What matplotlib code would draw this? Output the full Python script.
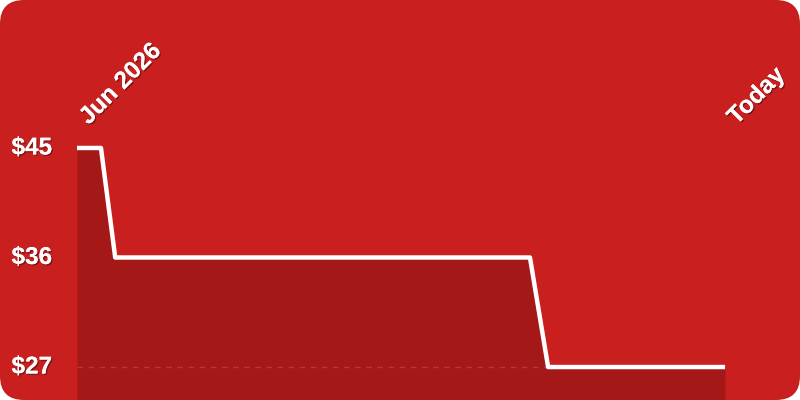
import matplotlib
matplotlib.use('Agg')
import matplotlib.pyplot as plt
import matplotlib.patheffects as pe
from matplotlib.patches import FancyBboxPatch
from matplotlib.transforms import offset_copy

# price history (time in % of the span from Jun 2026 to today)
t = [0, 3.7, 5.9, 69.9, 72.7, 100]
price = [45, 45, 36, 36, 27, 27]
tick_prices = [45, 36, 27]
tick_labels = ['$45', '$36', '$27']
date_labels = ['Jun 2026', 'Today']
date_pos = [0, 100]

bg = '#C91F1F'
fill = '#A51818'

fig = plt.figure(figsize=(8, 4), dpi=100)
fig.patch.set_facecolor('white')
card = FancyBboxPatch((0, 0), 1, 1, boxstyle='round,pad=0,rounding_size=0.03',
                      transform=fig.transFigure, facecolor=bg, edgecolor='none',
                      mutation_aspect=2, zorder=-5)
fig.add_artist(card)

ax = fig.add_axes([0, 0, 1, 1])
ax.set_facecolor('none')
ax.axis('off')
ax.set_xlim(-11.88, 111.57)
ax.set_ylim(24.29, 57.16)

ax.fill_between(t, price, 20, color=fill, lw=0, zorder=1)
ax.plot([t[0], t[-1]], [27, 27], color='#C05050', lw=1, ls=(0, (4, 4)), alpha=0.6, zorder=2)
ax.plot(t, price, color='white', lw=3.2, solid_joinstyle='round', solid_capstyle='butt', zorder=3)

shadow = [pe.withSimplePatchShadow(offset=(1, -1), shadow_rgbFace='black', alpha=0.35), pe.Normal()]

for p, lab in zip(tick_prices, tick_labels):
    ax.text(-3.85, p, lab, ha='right', va='center', color='white', fontsize=17.5,
            fontweight='bold', family='Liberation Sans', path_effects=shadow)

for x, lab in zip(date_pos, date_labels):
    tr = offset_copy(ax.transData, fig=fig, x=15, y=-4, units='dots')
    ax.text(x, 57.16 - 125 / 12.17, lab, ha='left', va='bottom', rotation=45,
            rotation_mode='anchor', color='white', fontsize=17.5, fontweight='bold',
            family='Liberation Sans', path_effects=shadow, transform=tr)

fig.savefig('out.png', dpi=100)
